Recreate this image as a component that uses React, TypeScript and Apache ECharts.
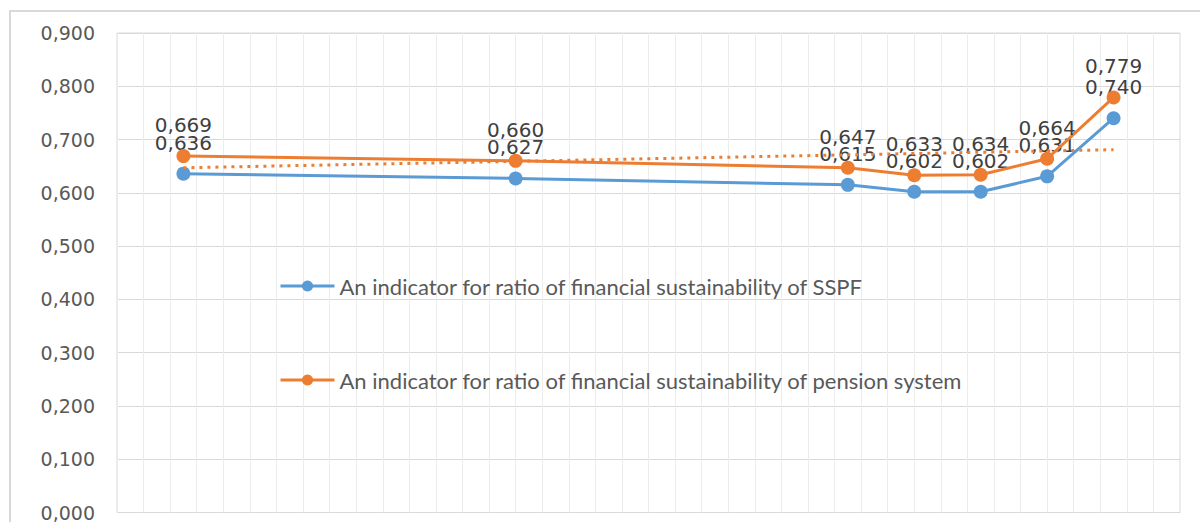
import React, { useEffect, useRef } from "react";
import * as echarts from "echarts";

const years = [2000, 2005, 2010, 2011, 2012, 2013, 2014];
const sspfValues = [0.636, 0.627, 0.615, 0.602, 0.602, 0.631, 0.74];
const pensionValues = [0.669, 0.66, 0.647, 0.633, 0.634, 0.664, 0.779];
const trendYears = [2000, 2014];
const trendValues = [0.647, 0.681];
const seriesNames = [
  "An indicator for ratio of financial sustainability of SSPF",
  "An indicator for ratio of financial sustainability of pension system",
];

const fmt = (v: number) => v.toFixed(3).replace(".", ",");

export default function App() {
  const ref = useRef<HTMLDivElement>(null);
  useEffect(() => {
    if (!ref.current) return;
    const chart = echarts.init(ref.current, undefined, { renderer: "svg" });
    const labelCfg = {
      show: true,
      position: "top" as const,
      distance: 14,
      fontFamily: "DejaVu Sans",
      fontSize: 20,
      color: "#404040",
      formatter: (p: any) => fmt(p.value[1]),
    };
    chart.setOption({
      animation: false,
      backgroundColor: "#ffffff",
      graphic: [
        {
          type: "rect",
          shape: { x: 10, y: 11, width: 1250, height: 600 },
          style: { fill: "none", stroke: "#d9d9d9", lineWidth: 2 },
          silent: true,
        },
      ],
      grid: {
        left: 117,
        top: 33,
        right: 20,
        bottom: 9,
        show: true,
        borderColor: "#d9d9d9",
        borderWidth: 1,
      },
      legend: {
        orient: "vertical",
        left: 274,
        top: 270,
        itemGap: 72,
        itemWidth: 54,
        itemHeight: 14,
        data: seriesNames,
        lineStyle: { width: 3 },
        textStyle: {
          fontFamily: "Lato",
          fontSize: 22,
          lineHeight: 22,
          color: "#595959",
        },
      },
      xAxis: [
        {
          type: "value",
          min: 1999,
          max: 2015,
          show: false,
          splitLine: { show: false },
        },
        {
          type: "value",
          min: 0,
          max: 40,
          interval: 1,
          axisLabel: { show: false },
          axisLine: { show: false },
          axisTick: { show: false },
          splitLine: { show: true, lineStyle: { color: "#ececec", width: 1 } },
        },
      ],
      yAxis: {
        type: "value",
        min: 0,
        max: 0.9,
        interval: 0.1,
        axisLine: { show: false },
        axisTick: { show: false },
        axisLabel: {
          formatter: (v: number) => fmt(v),
          fontFamily: "DejaVu Sans",
          fontSize: 19,
          color: "#595959",
          margin: 22,
        },
        splitLine: { lineStyle: { color: "#d9d9d9", width: 1 } },
      },
      series: [
        {
          name: seriesNames[0],
          type: "line",
          xAxisIndex: 0,
          data: years.map((y, i) => [y, sspfValues[i]]),
          symbol: "circle",
          symbolSize: 14,
          color: "#5B9BD5",
          lineStyle: { width: 3, color: "#5B9BD5" },
          itemStyle: { color: "#5B9BD5" },
          label: labelCfg,
          z: 3,
        },
        {
          name: seriesNames[1],
          type: "line",
          xAxisIndex: 0,
          data: years.map((y, i) => [y, pensionValues[i]]),
          symbol: "circle",
          symbolSize: 14,
          color: "#ED7D31",
          lineStyle: { width: 3, color: "#ED7D31" },
          itemStyle: { color: "#ED7D31" },
          label: labelCfg,
          z: 4,
        },
        {
          name: "trend",
          type: "line",
          xAxisIndex: 0,
          data: trendYears.map((y, i) => [y, trendValues[i]]),
          symbol: "none",
          lineStyle: { width: 3, color: "#ED7D31", type: [3, 5] },
          silent: true,
          z: 5,
        },
      ],
    });
    return () => chart.dispose();
  }, []);
  return (
    <div
      ref={ref}
      style={{ position: "absolute", left: 0, top: 0, width: 1200, height: 522 }}
    />
  );
}
